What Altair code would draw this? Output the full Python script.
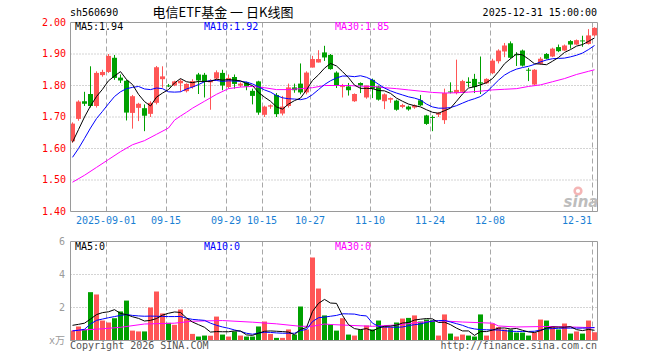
import altair as alt
import pandas as pd

# ---------------- data ----------------
aug = ["22", "25", "26", "27", "28", "29"]
sep = ["01", "02", "03", "04", "05", "08", "09", "10", "11", "12", "15", "16", "17", "18", "19",
       "22", "23", "24", "25", "26", "29", "30"]
octo = ["09", "10", "13", "14", "15", "16", "17", "20", "21", "22", "23", "24", "27", "28", "29", "30", "31"]
nov = ["03", "04", "05", "06", "07", "10", "11", "12", "13", "14", "17", "18", "19", "20", "21",
       "24", "25", "26", "27", "28"]
dec = ["01", "02", "03", "04", "05", "08", "09", "10", "11", "12", "15", "16", "17", "18", "19",
       "22", "23", "24", "25", "26", "29", "30", "31"]
dates = (["2025-08-" + d for d in aug] + ["2025-09-" + d for d in sep] + ["2025-10-" + d for d in octo]
         + ["2025-11-" + d for d in nov] + ["2025-12-" + d for d in dec])

open_ = [1.623, 1.694, 1.750, 1.773, 1.735, 1.833, 1.843, 1.888, 1.825, 1.815,
         1.713, 1.729, 1.728, 1.710, 1.745, 1.820, 1.800, 1.800, 1.807, 1.782,
         1.795, 1.835, 1.834, 1.810, 1.822, 1.840, 1.795, 1.827, 1.800, 1.810,
         1.783, 1.813, 1.707, 1.733, 1.770, 1.711, 1.735, 1.794, 1.806, 1.778,
         1.857, 1.873, 1.905, 1.897, 1.841, 1.795, 1.797, 1.750, 1.808, 1.762,
         1.818, 1.797, 1.750, 1.755, 1.752, 1.732, 1.733, 1.730, 1.753, 1.705,
         1.700, 1.707, 1.690, 1.781, 1.776, 1.780, 1.812, 1.821, 1.810, 1.807,
         1.839, 1.877, 1.908, 1.934, 1.899, 1.911, 1.850, 1.803, 1.869, 1.900,
         1.892, 1.922, 1.911, 1.941, 1.930, 1.943, 1.932, 1.959]
close = [1.679, 1.749, 1.742, 1.735, 1.840, 1.843, 1.894, 1.824, 1.816, 1.714,
         1.766, 1.742, 1.704, 1.745, 1.858, 1.829, 1.797, 1.813, 1.815, 1.805,
         1.814, 1.816, 1.813, 1.815, 1.842, 1.800, 1.824, 1.805, 1.806, 1.797,
         1.767, 1.714, 1.733, 1.737, 1.709, 1.733, 1.794, 1.785, 1.778, 1.841,
         1.884, 1.884, 1.889, 1.852, 1.799, 1.798, 1.785, 1.773, 1.800, 1.800,
         1.790, 1.755, 1.772, 1.760, 1.723, 1.738, 1.724, 1.737, 1.737, 1.678,
         1.697, 1.713, 1.776, 1.778, 1.786, 1.814, 1.808, 1.795, 1.806, 1.821,
         1.879, 1.911, 1.927, 1.888, 1.896, 1.863, 1.847, 1.850, 1.885, 1.885,
         1.917, 1.909, 1.927, 1.930, 1.944, 1.940, 1.959, 1.983]
high = [1.683, 1.753, 1.780, 1.861, 1.845, 1.850, 1.900, 1.897, 1.835, 1.818,
        1.770, 1.745, 1.740, 1.750, 1.862, 1.861, 1.805, 1.815, 1.820, 1.807,
        1.820, 1.840, 1.840, 1.820, 1.848, 1.850, 1.835, 1.835, 1.810, 1.812,
        1.790, 1.815, 1.736, 1.740, 1.776, 1.767, 1.806, 1.806, 1.870, 1.845,
        1.894, 1.912, 1.926, 1.900, 1.845, 1.805, 1.808, 1.775, 1.810, 1.800,
        1.822, 1.800, 1.775, 1.762, 1.755, 1.742, 1.736, 1.740, 1.770, 1.707,
        1.705, 1.716, 1.790, 1.810, 1.882, 1.818, 1.826, 1.837, 1.892, 1.823,
        1.885, 1.915, 1.935, 1.940, 1.906, 1.914, 1.856, 1.852, 1.890, 1.903,
        1.920, 1.930, 1.930, 1.944, 1.946, 1.958, 1.979, 1.985]
low = [1.618, 1.688, 1.735, 1.730, 1.730, 1.828, 1.840, 1.818, 1.808, 1.689,
       1.663, 1.687, 1.655, 1.700, 1.740, 1.793, 1.795, 1.798, 1.780, 1.778,
       1.790, 1.773, 1.762, 1.723, 1.815, 1.785, 1.790, 1.790, 1.795, 1.785,
       1.740, 1.707, 1.700, 1.726, 1.700, 1.705, 1.730, 1.777, 1.772, 1.772,
       1.857, 1.873, 1.878, 1.850, 1.792, 1.762, 1.768, 1.748, 1.776, 1.758,
       1.760, 1.752, 1.725, 1.745, 1.720, 1.728, 1.720, 1.726, 1.735, 1.675,
       1.655, 1.700, 1.678, 1.775, 1.772, 1.776, 1.795, 1.776, 1.773, 1.805,
       1.836, 1.870, 1.890, 1.885, 1.862, 1.860, 1.814, 1.800, 1.866, 1.883,
       1.890, 1.906, 1.910, 1.917, 1.929, 1.923, 1.930, 1.955]
volume = [0.60, 0.85, 0.67, 2.93, 2.79, 1.21, 1.09, 1.35, 1.76, 2.42,
          0.60, 0.55, 0.55, 2.00, 2.97, 1.64, 1.07, 0.95, 1.88, 1.31,
          0.40, 0.24, 0.30, 0.29, 1.45, 0.36, 0.24, 0.55, 0.30, 0.24,
          0.24, 0.85, 1.15, 0.40, 0.16, 0.16, 0.67, 0.36, 2.06, 0.67,
          5.03, 3.15, 1.52, 0.97, 0.60, 1.35, 0.36, 0.30, 0.67, 0.91,
          0.67, 1.21, 0.85, 0.81, 1.09, 1.33, 1.37, 1.52, 1.15, 1.27,
          1.23, 0.30, 1.58, 0.42, 0.24, 0.36, 0.30, 0.24, 1.58, 0.30,
          1.03, 0.81, 0.67, 0.67, 0.48, 0.48, 0.30, 0.48, 1.27, 1.21,
          0.85, 0.67, 1.03, 0.42, 0.55, 0.42, 1.21, 0.50]
ma5 = [1.620, 1.660, 1.700, 1.735, 1.765, 1.788, 1.815, 1.830, 1.844, 1.819,
       1.803, 1.772, 1.749, 1.735, 1.763, 1.776, 1.787, 1.808, 1.822, 1.812,
       1.809, 1.813, 1.813, 1.813, 1.820, 1.817, 1.819, 1.817, 1.815, 1.806,
       1.800, 1.778, 1.763, 1.750, 1.732, 1.725, 1.741, 1.752, 1.760, 1.786,
       1.816, 1.834, 1.855, 1.870, 1.862, 1.844, 1.825, 1.801, 1.791, 1.791,
       1.790, 1.784, 1.783, 1.775, 1.760, 1.750, 1.741, 1.736, 1.732, 1.723,
       1.715, 1.712, 1.720, 1.728, 1.750, 1.773, 1.792, 1.796, 1.802, 1.809,
       1.822, 1.844, 1.869, 1.885, 1.900, 1.897, 1.884, 1.869, 1.868, 1.866,
       1.877, 1.889, 1.905, 1.914, 1.925, 1.930, 1.940, 1.951]
ma10 = [1.572, 1.600, 1.632, 1.665, 1.695, 1.718, 1.742, 1.765, 1.780, 1.790,
        1.794, 1.797, 1.789, 1.787, 1.792, 1.790, 1.780, 1.779, 1.780, 1.789,
        1.795, 1.803, 1.812, 1.816, 1.816, 1.813, 1.815, 1.814, 1.813, 1.811,
        1.805, 1.796, 1.786, 1.779, 1.768, 1.761, 1.758, 1.757, 1.755, 1.759,
        1.771, 1.787, 1.803, 1.815, 1.824, 1.830, 1.830, 1.828, 1.831, 1.826,
        1.817, 1.804, 1.792, 1.783, 1.776, 1.770, 1.764, 1.760, 1.754, 1.741,
        1.732, 1.728, 1.728, 1.730, 1.736, 1.744, 1.752, 1.758, 1.765, 1.779,
        1.798, 1.817, 1.833, 1.844, 1.852, 1.857, 1.861, 1.867, 1.875, 1.881,
        1.885, 1.886, 1.887, 1.891, 1.896, 1.903, 1.914, 1.927]
ma30_idx = [0, 2, 4, 6, 8, 10, 12, 14, 16, 17, 18, 19, 20, 22, 24, 26, 28, 30, 32, 34, 36, 38, 40,
            42, 44, 46, 48, 50, 52, 54, 56, 58, 60, 62, 64, 66, 68, 70, 72, 74, 76, 78, 80, 82, 84,
            86, 87]
ma30 = [1.493, 1.515, 1.540, 1.565, 1.590, 1.612, 1.625, 1.645, 1.665, 1.690, 1.703, 1.715, 1.728,
        1.750, 1.772, 1.790, 1.795, 1.797, 1.793, 1.787, 1.787, 1.790, 1.793, 1.800, 1.800, 1.800,
        1.798, 1.797, 1.793, 1.790, 1.786, 1.782, 1.778, 1.776, 1.777, 1.779, 1.782, 1.786, 1.788,
        1.790, 1.797, 1.802, 1.812, 1.822, 1.835, 1.845, 1.850]
vma5 = [0.92, 0.98, 1.05, 1.30, 1.57, 1.69, 1.74, 1.87, 1.64, 1.57,
        1.44, 1.34, 1.18, 1.22, 1.33, 1.54, 1.65, 1.73, 1.70, 1.37,
        1.12, 0.96, 0.80, 0.51, 0.54, 0.53, 0.53, 0.58, 0.58, 0.34,
        0.31, 0.44, 0.56, 0.58, 0.56, 0.54, 0.51, 0.35, 0.68, 0.78,
        1.76, 2.25, 2.49, 2.27, 2.25, 1.52, 0.96, 0.72, 0.66, 0.72,
        0.58, 0.75, 0.86, 0.87, 0.93, 1.06, 1.09, 1.24, 1.29, 1.33,
        1.31, 1.09, 1.11, 0.96, 0.75, 0.58, 0.58, 0.31, 0.54, 0.54,
        0.63, 0.75, 0.76, 0.70, 0.73, 0.62, 0.52, 0.48, 0.60, 0.75,
        0.82, 0.81, 0.81, 0.84, 0.66, 0.60, 0.67, 0.62]
vma10 = [0.58, 0.62, 0.68, 1.00, 1.22, 1.30, 1.38, 1.45, 1.52, 1.57,
         1.52, 1.49, 1.47, 1.48, 1.47, 1.46, 1.45, 1.45, 1.46, 1.35,
         1.28, 1.25, 1.22, 1.05, 0.92, 0.82, 0.74, 0.64, 0.55, 0.44,
         0.38, 0.45, 0.50, 0.49, 0.46, 0.44, 0.44, 0.44, 0.60, 0.67,
         1.15, 1.38, 1.42, 1.47, 1.52, 1.62, 1.61, 1.60, 1.52, 1.49,
         1.05, 0.86, 0.81, 0.81, 0.80, 0.82, 0.90, 0.96, 1.00, 1.10,
         1.18, 1.20, 1.22, 1.12, 1.02, 0.92, 0.78, 0.70, 0.66, 0.65,
         0.64, 0.64, 0.60, 0.56, 0.55, 0.55, 0.55, 0.56, 0.64, 0.71,
         0.72, 0.74, 0.75, 0.75, 0.75, 0.75, 0.76, 0.79]
vma30_idx = [0, 5, 8, 12, 17, 20, 25, 30, 34, 38, 40, 42, 43, 46, 50, 54, 58, 61, 65, 70, 71, 74,
             79, 84, 87]
vma30 = [0.60, 0.71, 0.80, 1.00, 1.05, 1.17, 1.21, 1.11, 1.01, 0.86, 0.86, 1.00, 0.97, 0.92, 0.86,
         0.94, 1.10, 1.20, 1.12, 1.05, 0.88, 0.82, 0.85, 0.81, 0.77]

tick_dates = ["2025-09-01", "2025-09-15", "2025-09-29", "2025-10-15", "2025-10-27",
              "2025-11-10", "2025-11-24", "2025-12-08", "2025-12-31"]
tick_labels = ["2025-09-01", "09-15", "09-29", "10-15", "10-27", "11-10", "11-24", "12-08", "12-31"]
price_ticks = [1.40, 1.50, 1.60, 1.70, 1.80, 1.90, 2.00]
price_grid = [1.50, 1.60, 1.70, 1.80, 1.90]
vol_ticks = [0, 2, 4, 6]
vol_tick_labels = ["x万", "2", "4", "6"]
vol_grid = [2, 4]

code_txt = "sh560690"
title_txt = "电信ETF基金 一 日K线图"
time_txt = "2025-12-31 15:00:00"
ma_price_txt = ["MA5:1.94", "MA10:1.92", "MA30:1.85"]
ma_vol_txt = ["MA5:0", "MA10:0", "MA30:0"]
copy_txt = "Copyright 2026 SINA.COM"
url_txt = "http://finance.sina.com.cn"
logo_txt = "sina"

# ---------------- style ----------------
RED = "#ff5656"
GREEN = "#00a000"
MONO = "DejaVu Sans Mono, Noto Sans CJK SC"
CJK = "Noto Sans CJK SC"
FRAME = "#9a9a9a"
GRID = "#a8a8a8"
W, H = 527, 318

df = pd.DataFrame({"date": dates, "open": open_, "close": close, "high": high, "low": low,
                   "vol": volume, "ma5": ma5, "ma10": ma10, "vma5": vma5, "vma10": vma10})
df30 = pd.DataFrame({"date": [dates[i] for i in ma30_idx], "ma30": ma30})
dfv30 = pd.DataFrame({"date": [dates[i] for i in vma30_idx], "vma30": vma30})
dticks = pd.DataFrame({"date": tick_dates, "label": tick_labels})
dpt = pd.DataFrame({"v": price_ticks})
dpg = pd.DataFrame({"v": price_grid})
dvt = pd.DataFrame({"v": vol_ticks, "label": vol_tick_labels})
dvg = pd.DataFrame({"v": vol_grid})

color_expr = f"datum.close >= datum.open ? '{RED}' : '{GREEN}'"

xscale = alt.Scale(domain=dates, paddingInner=1 / 6, paddingOuter=0)
pscale = alt.Scale(domain=[1.4, 2.0], range=[189.5, 0.5], zero=False, nice=False)
vscale = alt.Scale(domain=[0, 6], range=[318.5, 219.5], zero=False, nice=False)

xn = alt.X("date:O", scale=xscale, axis=None)
xg = alt.X("date:O", scale=xscale, axis=None, bandPosition=0.1)
xl = alt.X("date:O", scale=xscale, axis=None, bandPosition=0)


def txt(s, x, y, color, align="left", size=10, font=MONO, **kw):
    return alt.Chart(pd.DataFrame({"t": [s]})).mark_text(
        align=align, baseline="middle", font=font, fontSize=size, color=color, **kw
    ).encode(text="t:N", x=alt.value(x), y=alt.value(y))


# ---------------- price panel ----------------
p_vgrid = alt.Chart(dticks).mark_rule(color=GRID, strokeDash=[5, 3], strokeWidth=1).encode(
    x=xg, y=alt.value(0.5), y2=alt.value(189.5))
p_hgrid = alt.Chart(dpg).mark_rule(color=GRID, strokeDash=[1, 2], strokeWidth=1).encode(
    y=alt.Y("v:Q", scale=pscale, axis=None), x=alt.value(0.5), x2=alt.value(527.5))
p_labels = alt.Chart(dpt).mark_text(align="right", baseline="middle", font=MONO, fontSize=10,
                                     color="#ff0000").encode(
    y=alt.Y("v:Q", scale=pscale, axis=None), x=alt.value(-4), text=alt.Text("v:Q", format=".2f"))

date_mid = alt.Chart(dticks.iloc[:-1]).mark_text(
    align="center", baseline="middle", font=MONO, fontSize=10, color="#1a7fd4").encode(
    x=xl, y=alt.value(199), text="label:N")
date_last = alt.Chart(dticks.iloc[-1:]).mark_text(
    align="right", baseline="middle", font=MONO, fontSize=10, color="#1a7fd4").encode(
    x=xl, y=alt.value(199), text="label:N")

wicks = alt.Chart(df).transform_calculate(c=color_expr).mark_rule(strokeWidth=1).encode(
    x=xn, y=alt.Y("low:Q", scale=pscale, axis=None), y2="high:Q",
    color=alt.Color("c:N", scale=None))
bodies = alt.Chart(df).transform_calculate(c=color_expr).mark_bar(opacity=1).encode(
    x=xn, y=alt.Y("open:Q", scale=pscale, axis=None), y2="close:Q",
    color=alt.Color("c:N", scale=None))

l30 = alt.Chart(df30).mark_line(color="#ff00ff", strokeWidth=1).encode(
    x=xn, y=alt.Y("ma30:Q", scale=pscale, axis=None))
l10 = alt.Chart(df).mark_line(color="#0000ff", strokeWidth=1).encode(
    x=xn, y=alt.Y("ma10:Q", scale=pscale, axis=None))
l5 = alt.Chart(df).mark_line(color="#000000", strokeWidth=1).encode(
    x=xn, y=alt.Y("ma5:Q", scale=pscale, axis=None))

p_frame = alt.Chart(pd.DataFrame({"k": [0]})).mark_rect(
    fill="transparent", stroke=FRAME, strokeWidth=1).encode(
    x=alt.value(0.5), x2=alt.value(527.5), y=alt.value(0.5), y2=alt.value(189.5))

logo_eye = alt.Chart(pd.DataFrame({"k": [0]})).mark_point(
    shape="circle", size=45, filled=False, stroke="#f2a3a3", strokeWidth=2.5, opacity=0.8).encode(
    x=alt.value(508), y=alt.value(169))

price = alt.layer(
    p_vgrid, p_hgrid, wicks, bodies, l30, l10, l5, p_frame, p_labels, date_mid, date_last,
    txt(ma_price_txt[0], 5, 4.5, "#000000"),
    txt(ma_price_txt[1], 134, 4.5, "#0000ff"),
    txt(ma_price_txt[2], 265, 4.5, "#ff00ff"),
    logo_eye,
    txt(logo_txt, 511, 180, "#bdbdbd", size=15, font="DejaVu Sans", fontStyle="italic",
        fontWeight="bold", align="center"),
)

# ---------------- volume panel ----------------
v_vgrid = alt.Chart(dticks).mark_rule(color=GRID, strokeDash=[5, 3], strokeWidth=1).encode(
    x=xg, y=alt.value(219.5), y2=alt.value(318.5))
v_hgrid = alt.Chart(dvg).mark_rule(color=GRID, strokeDash=[1, 2], strokeWidth=1).encode(
    y=alt.Y("v:Q", scale=vscale, axis=None), x=alt.value(0.5), x2=alt.value(527.5))
v_labels = alt.Chart(dvt).mark_text(align="right", baseline="middle", font=MONO, fontSize=10,
                                     color="#9a9a9a").encode(
    y=alt.Y("v:Q", scale=vscale, axis=None), x=alt.value(-5), text="label:N")

vbars = alt.Chart(df).transform_calculate(c=color_expr).mark_bar(opacity=1).encode(
    x=xn, y=alt.Y("vol:Q", scale=vscale, axis=None),
    color=alt.Color("c:N", scale=None))

v30 = alt.Chart(dfv30).mark_line(color="#ff00ff", strokeWidth=1).encode(
    x=xn, y=alt.Y("vma30:Q", scale=vscale, axis=None))
v10 = alt.Chart(df).mark_line(color="#0000ff", strokeWidth=1).encode(
    x=xn, y=alt.Y("vma10:Q", scale=vscale, axis=None))
v5 = alt.Chart(df).mark_line(color="#000000", strokeWidth=1).encode(
    x=xn, y=alt.Y("vma5:Q", scale=vscale, axis=None))

v_frame = alt.Chart(pd.DataFrame({"k": [0]})).mark_rect(
    fill="transparent", stroke=FRAME, strokeWidth=1).encode(
    x=alt.value(0.5), x2=alt.value(527.5), y=alt.value(219.5), y2=alt.value(318.5))

vol = alt.layer(
    v_vgrid, v_hgrid, vbars, v30, v10, v5, v_frame, v_labels,
    txt(ma_vol_txt[0], 5, 224.5, "#000000"),
    txt(ma_vol_txt[1], 134, 224.5, "#0000ff"),
    txt(ma_vol_txt[2], 265, 224.5, "#ff00ff"),
)

# ---------------- header / footer ----------------
deco = alt.layer(
    txt(code_txt, 0, -9, "#000000"),
    txt(title_txt, 153, -9.5, "#000000", align="center", size=13, font=CJK),
    txt(time_txt, 527, -9, "#000000", align="right"),
    txt(copy_txt, 0, 323.5, "#555555"),
    txt(url_txt, 527, 323.5, "#555555", align="right"),
)

chart = alt.layer(price, vol, deco).resolve_scale(y="independent").properties(
    width=W, height=H,
    padding={"left": 70, "top": 22, "right": 63, "bottom": 20},
    autosize=alt.AutoSizeParams(type="none"),
    background="white",
).configure_view(strokeWidth=0)

chart.save("out.html", embed_options={"renderer": "svg", "actions": False})
